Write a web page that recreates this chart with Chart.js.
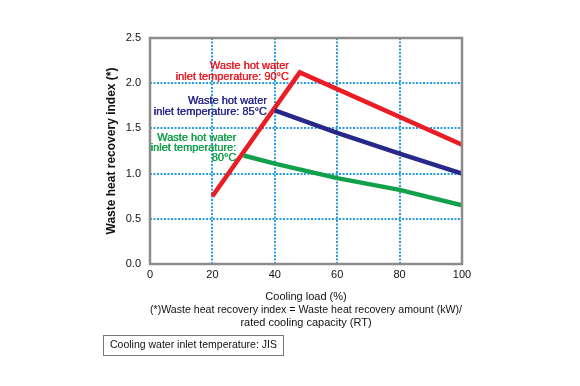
<!DOCTYPE html>
<html>
<head>
<meta charset="utf-8">
<script src="https://cdn.jsdelivr.net/npm/chart.js@4/dist/chart.umd.min.js"></script>
<style>
html,body{margin:0;padding:0;background:#fff;}
#wrap{position:relative;width:580px;height:386px;}
</style>
</head>
<body>
<div id="wrap"><canvas id="c" width="580" height="386"></canvas></div>
<script>
// Data
const loads90 = [20, 48, 100];
const index90 = [0.75, 2.12, 1.32];
const loads85 = [40, 60, 80, 100];
const index85 = [1.70, 1.45, 1.22, 1.00];
const loads80 = [30, 40, 60, 80, 100];
const index80 = [1.20, 1.11, 0.95, 0.82, 0.65];
const xTicks = [0, 20, 40, 60, 80, 100];
const yTicks = [0.0, 0.5, 1.0, 1.5, 2.0, 2.5];
const labels90 = ["Waste hot water", "inlet temperature: 90°C"];
const labels85 = ["Waste hot water", "inlet temperature: 85°C"];
const labels80 = ["Waste hot water", "inlet temperature:", "80°C"];
const xTitle = ["Cooling load (%)", "(*)Waste heat recovery index = Waste heat recovery amount (kW)/", "rated cooling capacity (RT)"];
const yTitle = "Waste heat recovery index (*)";
const noteText = "Cooling water inlet temperature: JIS";

const RED = '#ea1c24', BLUE = '#27288a', GREEN = '#13a04a', GRID = '#2a9de0';
const FONT = '"Liberation Sans", Arial, sans-serif';

function pts(xs, ys){ return xs.map((x,i)=>({x:x, y:ys[i]})); }

const extras = {
  id: 'extras',
  afterDraw(chart){
    const ctx = chart.ctx, a = chart.chartArea;
    const xs = chart.scales.x, ys = chart.scales.y;
    ctx.save();
    // frame
    ctx.strokeStyle = '#8c8c8c';
    ctx.lineWidth = 2.5;
    ctx.strokeRect(a.left, a.top, a.right - a.left, a.bottom - a.top);
    // annotations
    ctx.font = '11px ' + FONT;
    ctx.textAlign = 'right';
    ctx.textBaseline = 'middle';
    function lab(lines, color, xv, yv, dx, dy, lh){
      const px = xs.getPixelForValue(xv) + dx;
      const py = ys.getPixelForValue(yv) + dy;
      ctx.fillStyle = color;
      lines.forEach((t,i)=>{ ctx.fillText(t, px, py + i*lh); ctx.fillText(t, px + 0.4, py + i*lh); });
    }
    lab(labels90, RED, 48, 2.12, -11, -6, 11);
    lab(labels85, BLUE, 40, 1.70, -8, -9, 10.5);
    lab(labels80, GREEN, 30, 1.20, -7.5, -17.5, 9.8);
    // note box
    ctx.font = '10.5px ' + FONT;
    ctx.textAlign = 'left';
    ctx.fillStyle = '#111';
    ctx.fillText(noteText, 110, 345.5);
    ctx.strokeStyle = '#777';
    ctx.lineWidth = 1;
    ctx.strokeRect(103.5, 335.5, 180, 20);
    ctx.restore();
  }
};

new Chart(document.getElementById('c'), {
  type: 'scatter',
  data: {
    datasets: [
      {data: pts(loads80, index80), borderColor: GREEN, showLine: true, borderWidth: 4.5, pointRadius: 0, tension: 0},
      {data: pts(loads85, index85), borderColor: BLUE, showLine: true, borderWidth: 4.5, pointRadius: 0, tension: 0},
      {data: pts(loads90, index90), borderColor: RED, showLine: true, borderWidth: 4.5, pointRadius: 0, tension: 0, borderJoinStyle: 'miter'}
    ]
  },
  options: {
    responsive: false,
    animation: false,
    devicePixelRatio: 1,
    layout: {padding: {left: 104, right: 118, top: 38, bottom: 56}},
    plugins: {legend: {display: false}, tooltip: {enabled: false}},
    scales: {
      x: {
        type: 'linear', min: 0, max: 100,
        afterBuildTicks: s => { s.ticks = xTicks.map(v => ({value: v})); },
        afterFit: s => { s.height = 66; },
        grid: {
          color: c => (c.tick && (c.tick.value === 0 || c.tick.value === 100)) ? 'rgba(0,0,0,0)' : GRID,
          lineWidth: 2, drawTicks: false
        },
        border: {display: false, dash: [2, 1.5]},
        ticks: {color: '#111', font: {family: FONT, size: 11}, padding: 4, maxRotation: 0},
        title: {display: true, text: xTitle, color: '#111', font: {family: FONT, size: 11}, padding: {top: 0, bottom: 0}, lineHeight: 1.15}
      },
      y: {
        type: 'linear', min: 0, max: 2.5,
        afterBuildTicks: s => { s.ticks = yTicks.map(v => ({value: v})); },
        afterFit: s => { s.width = 46; },
        grid: {
          color: c => (c.tick && (c.tick.value === 0 || c.tick.value === 2.5)) ? 'rgba(0,0,0,0)' : GRID,
          lineWidth: 2, drawTicks: false
        },
        border: {display: false, dash: [2, 1.5]},
        ticks: {color: '#111', font: {family: FONT, size: 11}, padding: 9, callback: v => Number(v).toFixed(1)},
        title: {display: true, text: yTitle, color: '#111', font: {family: FONT, size: 12, weight: 'bold'}, padding: {top: 0, bottom: 0}}
      }
    }
  },
  plugins: [extras]
});
</script>
</body>
</html>
